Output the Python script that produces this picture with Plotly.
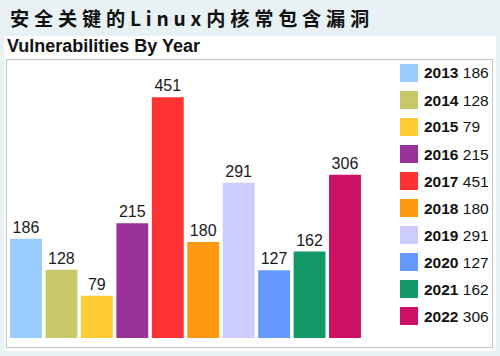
import plotly.graph_objects as go

years = ["2013", "2014", "2015", "2016", "2017", "2018", "2019", "2020", "2021", "2022"]
counts = [186, 128, 79, 215, 451, 180, 291, 127, 162, 306]
colors = ["#99ccff", "#c9c96a", "#ffcc33", "#993399", "#ff3333",
          "#ff9914", "#ccccff", "#6699ff", "#129966", "#cc1166"]

title_text = "安全关键的Linux内核常包含漏洞"
subtitle_text = "Vulnerabilities By Year"

W, H = 500, 356
L, R, T, B = 7, 492, 60, 347  # plot box in pixels


def px(x):
    return (x - L) / (R - L)


def py(y):
    return (B - y) / (B - T)


fig = go.Figure()
fig.add_trace(go.Bar(
    x=years, y=counts,
    marker=dict(color=colors, line=dict(width=0)),
    text=[str(c) for c in counts],
    textposition="outside",
    textfont=dict(size=16, color="#1a1a1a", family="Liberation Sans, Arial"),
    cliponaxis=False,
    showlegend=False,
    hoverinfo="skip",
))

shapes = [
    dict(type="rect", xref="paper", yref="paper", layer="below",
         x0=px(4), x1=px(496), y0=py(351), y1=py(36),
         fillcolor="white", line=dict(width=0)),
]
annotations = [
    dict(text="<b>" + "\u2005".join(title_text) + "</b>", xref="paper", yref="paper",
         x=px(8), y=py(18), xanchor="left", yanchor="middle", showarrow=False,
         font=dict(size=19.2, color="#111111", family="Noto Sans CJK SC"),
         ),
    dict(text="<b>" + subtitle_text + "</b>", xref="paper", yref="paper",
         x=px(5), y=py(46), xanchor="left", yanchor="middle", showarrow=False,
         font=dict(size=18, color="#111111",
                   family="Liberation Sans Narrow, Liberation Sans, Arial")),
]

# legend built from the data arrays
leg_top, leg_step = 73, 27
for i, (yr, c, col) in enumerate(zip(years, counts, colors)):
    cy = leg_top + i * leg_step
    shapes.append(dict(type="rect", xref="paper", yref="paper",
                       x0=px(400), x1=px(418), y0=py(cy + 9), y1=py(cy - 9),
                       fillcolor=col, line=dict(width=0)))
    annotations.append(dict(text=f"<b>{yr}</b> {c}", xref="paper", yref="paper",
                            x=px(422), y=py(cy), xanchor="left", yanchor="middle",
                            showarrow=False,
                            font=dict(size=15.5, color="#111111",
                                      family="Liberation Sans, Arial")))

scale = (338 - 97.3) / 451.0
y_lo = -(B - 338) / scale
y_hi = (338 - T) / scale
pitch = (345 - 26) / 9.0
x_lo = -(26 - L) / pitch
x_hi = x_lo + (R - L) / pitch

fig.update_layout(
    width=W, height=H,
    margin=dict(l=L, r=W - R, t=T, b=H - B, pad=0, autoexpand=False),
    paper_bgcolor="#e8f2f5",
    plot_bgcolor="white",
    bargap=0.1,
    shapes=shapes,
    annotations=annotations,
    xaxis=dict(range=[x_lo, x_hi], showticklabels=False, showgrid=False,
               zeroline=False, showline=True, mirror=True, linecolor="#c4c4c4",
               linewidth=1, ticks=""),
    yaxis=dict(range=[y_lo, y_hi], showticklabels=False, showgrid=False,
               zeroline=False, showline=True, mirror=True, linecolor="#c4c4c4",
               linewidth=1, ticks=""),
)

fig.write_html(
    "out.html",
    config={"displayModeBar": False},
    post_script="document.body.style.margin='0';document.body.style.overflow='hidden';",
)
